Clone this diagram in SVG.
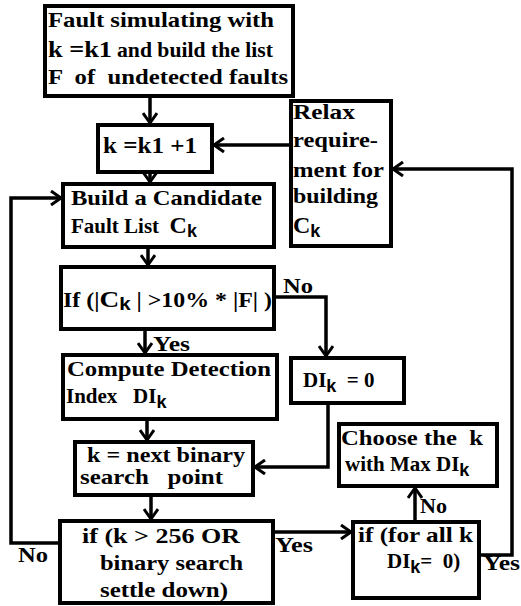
<svg xmlns="http://www.w3.org/2000/svg" width="521" height="606" viewBox="0 0 521 606" font-family="Liberation Serif, serif">
<style>
.box{fill:#fff;stroke:#000;stroke-width:4}
.t{font-weight:bold;font-size:21px;fill:#000;white-space:pre}
.big{font-size:24px}
.sub{font-size:18px}
.c{fill:none;stroke:#000;stroke-width:3.5}
</style>
<defs>
<marker id="a" markerUnits="userSpaceOnUse" markerWidth="16" markerHeight="16" refX="12" refY="8" orient="auto">
<path d="M2,1 L12,8 L2,15" fill="none" stroke="#000" stroke-width="3"/>
</marker>
</defs>
<rect width="521" height="606" fill="#fff"/>
<g id="connectors">
<path class="c" d="M150,96 L150,123" marker-end="url(#a)"/>
<path class="c" d="M291,145 L214,145" marker-end="url(#a)"/>
<path class="c" d="M150,172 L150,182" marker-end="url(#a)"/>
<path class="c" d="M60,543 L11,543 L11,198 L61,198" marker-end="url(#a)"/>
<path class="c" d="M148,247 L148,265" marker-end="url(#a)"/>
<path class="c" d="M145,329 L145,353" marker-end="url(#a)"/>
<path class="c" d="M274,297 L326,297 L326,356" marker-end="url(#a)"/>
<path class="c" d="M147,419 L147,440" marker-end="url(#a)"/>
<path class="c" d="M328,403 L328,467 L255,467" marker-end="url(#a)"/>
<path class="c" d="M151,495 L151,519" marker-end="url(#a)"/>
<path class="c" d="M273,532 L351,532" marker-end="url(#a)"/>
<path class="c" d="M415,522 L415,488" marker-end="url(#a)"/>
<path class="c" d="M479,555 L512,555 L512,169 L393,169" marker-end="url(#a)"/>
<text class="t" x="283" y="293" textLength="30" lengthAdjust="spacingAndGlyphs">No</text>
<text class="t" x="153" y="351" textLength="37" lengthAdjust="spacingAndGlyphs">Yes</text>
<text class="t" x="18" y="562" textLength="30" lengthAdjust="spacingAndGlyphs">No</text>
<text class="t" x="275" y="552" textLength="38" lengthAdjust="spacingAndGlyphs">Yes</text>
<text class="t" x="420" y="513" textLength="27" lengthAdjust="spacingAndGlyphs">No</text>
<text class="t" x="483" y="570" textLength="37" lengthAdjust="spacingAndGlyphs">Yes</text>
</g>
<g id="n1">
<rect class="box" x="45" y="6" width="248" height="90"/>
<text class="t" x="48" y="27" textLength="226" lengthAdjust="spacingAndGlyphs">Fault simulating with</text>
<text class="t big" x="48" y="57" textLength="64" lengthAdjust="spacingAndGlyphs">k =k1</text>
<text class="t" x="117" y="57" textLength="156" lengthAdjust="spacingAndGlyphs">and build the list</text>
<text class="t" x="48" y="84" textLength="240" lengthAdjust="spacingAndGlyphs">F  of  undetected faults</text>
</g>
<g id="n2">
<rect class="box" x="98" y="125" width="114" height="47"/>
<text class="t big" x="103" y="153" textLength="94" lengthAdjust="spacingAndGlyphs">k =k1 +1</text>
</g>
<g id="n3">
<rect class="box" x="291" y="101" width="100" height="145"/>
<text class="t" x="293" y="119" textLength="62" lengthAdjust="spacingAndGlyphs">Relax</text>
<text class="t" x="293" y="147" textLength="85" lengthAdjust="spacingAndGlyphs">require-</text>
<text class="t" x="293" y="177" textLength="91" lengthAdjust="spacingAndGlyphs">ment for</text>
<text class="t" x="293" y="203" textLength="85" lengthAdjust="spacingAndGlyphs">building</text>
<text class="t big" x="293" y="233">C<tspan class="sub" font-family="Liberation Sans, sans-serif" dy="4">k</tspan></text>
</g>
<g id="n4">
<rect class="box" x="63" y="184" width="211" height="63"/>
<text class="t" x="71" y="205" textLength="191" lengthAdjust="spacingAndGlyphs">Build a Candidate</text>
<text class="t" x="71" y="233">Fault List  <tspan class="big">C</tspan><tspan class="sub" font-family="Liberation Sans, sans-serif" dy="4">k</tspan></text>
</g>
<g id="n5">
<rect class="box" x="61" y="267" width="213" height="62"/>
<text class="t" x="63" y="307" textLength="209" lengthAdjust="spacingAndGlyphs">If (|<tspan class="big">C</tspan><tspan class="sub" font-family="Liberation Sans, sans-serif" dy="3">k</tspan><tspan dy="-3"> | &gt;10% * |F| )</tspan></text>
</g>
<g id="n6">
<rect class="box" x="63" y="355" width="214" height="64"/>
<text class="t" x="67" y="376" textLength="204" lengthAdjust="spacingAndGlyphs">Compute Detection</text>
<text class="t" x="66" y="403">Index   DI<tspan class="sub" font-family="Liberation Sans, sans-serif" dy="5">k</tspan></text>
</g>
<g id="n7">
<rect class="box" x="291" y="358" width="113" height="45"/>
<text class="t" x="303" y="387">DI<tspan class="sub" font-family="Liberation Sans, sans-serif" dy="5">k</tspan><tspan dy="-5">  = 0</tspan></text>
</g>
<g id="n8">
<rect class="box" x="75" y="442" width="178" height="53"/>
<text class="t" x="87" y="462" font-size="20" textLength="158" lengthAdjust="spacingAndGlyphs">k = next binary</text>
<text class="t" x="80" y="484" font-size="20" textLength="143" lengthAdjust="spacingAndGlyphs">search   point</text>
</g>
<g id="n9">
<rect class="box" x="60" y="521" width="213" height="82"/>
<text class="t" x="82" y="543" textLength="158" lengthAdjust="spacingAndGlyphs">if (k &gt; 256 OR</text>
<text class="t" x="100" y="570" textLength="143" lengthAdjust="spacingAndGlyphs">binary search</text>
<text class="t" x="100" y="597" textLength="128" lengthAdjust="spacingAndGlyphs">settle down)</text>
</g>
<g id="n10">
<rect class="box" x="353" y="522" width="126" height="76"/>
<text class="t" x="358" y="542" textLength="115" lengthAdjust="spacingAndGlyphs">if (for all k</text>
<text class="t" x="387" y="568">DI<tspan class="sub" font-family="Liberation Sans, sans-serif" dy="5">k</tspan><tspan dy="-5">=  0)</tspan></text>
</g>
<g id="n11">
<rect class="box" x="339" y="424" width="158" height="62"/>
<text class="t" x="341" y="445" textLength="142" lengthAdjust="spacingAndGlyphs">Choose the  k</text>
<text class="t" x="345" y="471">with Max DI<tspan class="sub" font-family="Liberation Sans, sans-serif" dy="5">k</tspan></text>
</g>
</svg>
